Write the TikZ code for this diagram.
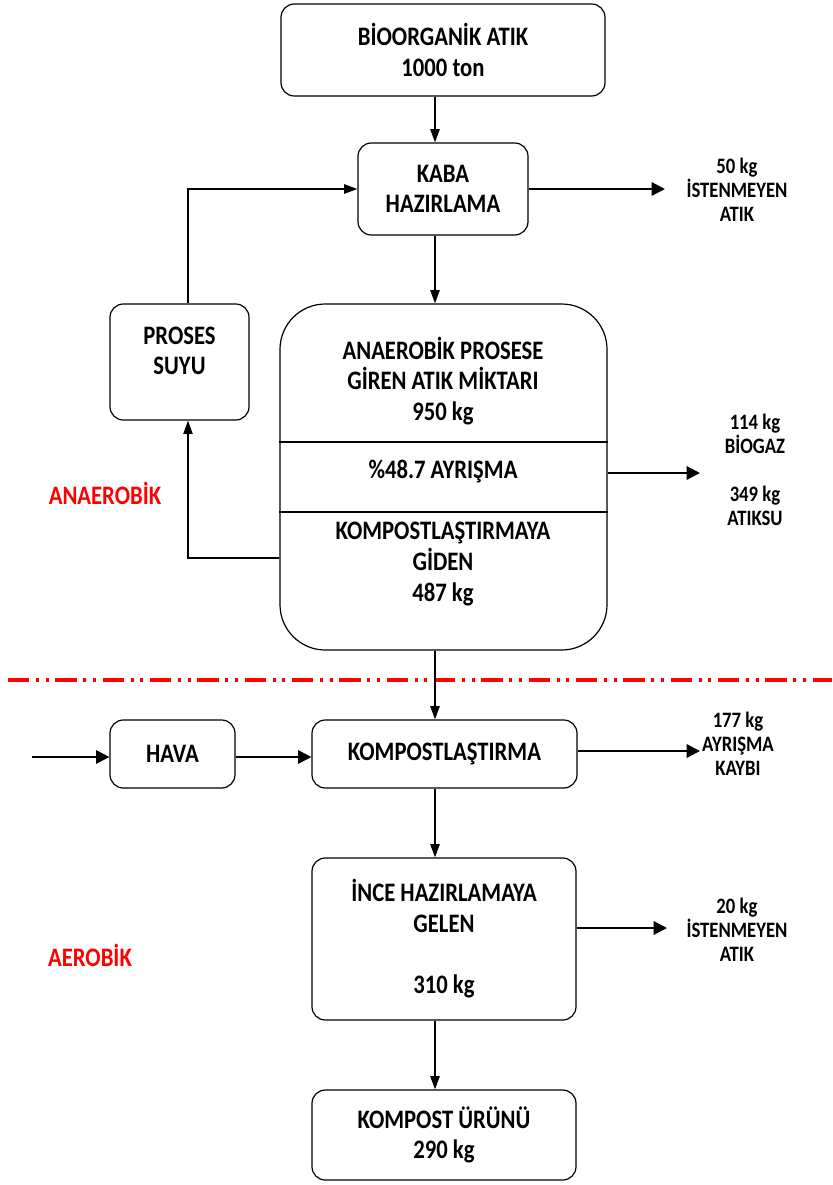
\documentclass[tikz,border=0pt]{standalone}
\usepackage{fontspec}
\setmainfont{Carlito}[FakeStretch=0.85]
\usetikzlibrary{arrows.meta}

\begin{document}
\begin{tikzpicture}[x=0.75pt, y=-0.75pt,
    box/.style={draw, line width=0.9pt, rounded corners=10pt, align=center, inner sep=0pt,
                font=\bfseries\fontsize{20}{23}\selectfont},
    txt/.style={align=center, font=\bfseries\fontsize{20}{23}\selectfont},
    side/.style={align=center, font=\bfseries\fontsize{16.5}{18}\selectfont},
    phase/.style={red, font=\bfseries\fontsize{20}{23}\selectfont},
    arr/.style={-{Triangle[length=10pt,width=7pt]}, line width=1.2pt},
    outarr/.style={-{Triangle[length=10pt,width=10pt]}, line width=1.6pt}]
    \useasboundingbox (0,0) rectangle (832,1185);

    % anaerobic part
    \node[box, minimum width=243pt, minimum height=69pt] (bio) at (443,50) {BİOORGANİK ATIK\\1000 ton};
    \node[box, minimum width=127.5pt, minimum height=69pt] (kaba) at (443,189) {KABA\\HAZIRLAMA};
    \node[box, minimum width=104.25pt, minimum height=87pt] (proses) at (179.5,362) {};
    \node[txt] (prosestxt) at (179.5,351) {PROSES\\SUYU};
    \node[box, rounded corners=34pt, minimum width=245.25pt, minimum height=259.5pt] (anaerob) at (443.5,477) {};
    \node[txt] (giris) at (443,381) {ANAEROBİK PROSESE\\GİREN ATIK MİKTARI\\950 kg};
    \node[txt] (ayrisma) at (443,472) {\%48.7 AYRIŞMA};
    \node[txt] (giden) at (443,564) {KOMPOSTLAŞTIRMAYA\\GİDEN\\487 kg};

    \coordinate (div1) at (0,442);
    \coordinate (div2) at (0,512);
    \draw[line width=0.9pt] (anaerob.west |- div1) -- (anaerob.east |- div1);
    \draw[line width=0.9pt] (anaerob.west |- div2) -- (anaerob.east |- div2);

    % aerobic part
    \node[box, minimum width=93.75pt, minimum height=51pt] (hava) at (172.5,754) {HAVA};
    \node[box, minimum width=198.75pt, minimum height=51pt] (kompst) at (444.5,754) {KOMPOSTLAŞTIRMA};
    \node[box, minimum width=198pt, minimum height=121.5pt] (ince) at (444,939) {İNCE HAZIRLAMAYA\\GELEN\\[23pt]310 kg};
    \node[box, minimum width=198pt, minimum height=67.5pt] (urun) at (444,1135) {KOMPOST ÜRÜNÜ\\290 kg};

    \node[phase] (anae) at (105,493) {ANAEROBİK};
    \node[phase] (aero) at (90,955) {AEROBİK};

    \draw[red, line width=3.2pt, dash pattern=on 16pt off 5pt on 2.25pt off 5pt on 2.25pt off 5pt] (8,680) -- (832,680);

    % main flow
    \coordinate (spine) at (435,0);
    \draw[arr] (bio.south -| spine) -- (kaba.north -| spine);
    \draw[arr] (kaba.south -| spine) -- (anaerob.north -| spine);
    \draw[arr] (anaerob.south -| spine) -- (kompst.north -| spine);
    \draw[arr] (kompst.south -| spine) -- (ince.north -| spine);
    \draw[arr] (ince.south -| spine) -- (urun.north -| spine);

    % process water loop
    \coordinate (loop) at (188,0);
    \draw[arr] (proses.north -| loop) |- (kaba.west);
    \draw[arr, line width=0.8pt] ([yshift=-60.75pt]anaerob.west) -| (proses.south -| loop);

    % air
    \coordinate (air) at (32,757);
    \draw[outarr] (air) -- (hava.west |- air);
    \draw[outarr] (hava.east |- air) -- (kompst.west |- air);

    % outputs
    \coordinate (w1) at (665,189);
    \coordinate (w2) at (700,473);
    \coordinate (w3) at (700,751);
    \coordinate (w4) at (667,928);
    \draw[outarr] (kaba.east |- w1) -- (w1);
    \draw[outarr] (anaerob.east |- w2) -- (w2);
    \draw[outarr] (kompst.east |- w3) -- (w3);
    \draw[outarr] (ince.east |- w4) -- (w4);

    \node[side] (atik1) at (737,190) {50 kg\\İSTENMEYEN\\ATIK};
    \node[side] (gaz) at (755,470) {114 kg\\BİOGAZ\\[18pt]349 kg\\ATIKSU};
    \node[side] (kayip) at (738,744) {177 kg\\AYRIŞMA\\KAYBI};
    \node[side] (atik2) at (737,930) {20 kg\\İSTENMEYEN\\ATIK};
\end{tikzpicture}
\end{document}
